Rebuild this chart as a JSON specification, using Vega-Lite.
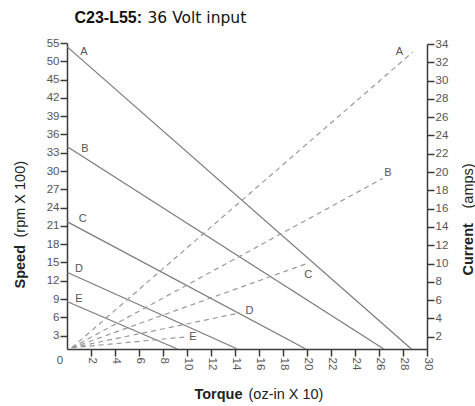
{
  "$schema": "https://vega.github.io/schema/vega-lite/v6.json",
  "width": 360,
  "height": 306,
  "autosize": {"type": "none"},
  "padding": {"left": 67, "top": 43, "right": 48, "bottom": 57},
  "datasets": {
    "speed": [
      {"motor": "A", "torque": 0, "speed": 54},
      {"motor": "A", "torque": 28.7, "speed": 0},
      {"motor": "B", "torque": 0, "speed": 34},
      {"motor": "B", "torque": 26.4, "speed": 0},
      {"motor": "C", "torque": 0, "speed": 21.7},
      {"motor": "C", "torque": 19.9, "speed": 0},
      {"motor": "D", "torque": 0, "speed": 13.4},
      {"motor": "D", "torque": 14.2, "speed": 0},
      {"motor": "E", "torque": 0, "speed": 8.6},
      {"motor": "E", "torque": 9.2, "speed": 0}
    ],
    "current": [
      {"motor": "A", "torque": 0.4, "current": 0.2},
      {"motor": "A", "torque": 28.8, "current": 33.1},
      {"motor": "B", "torque": 0.4, "current": 0.2},
      {"motor": "B", "torque": 26.3, "current": 19.3},
      {"motor": "C", "torque": 0.4, "current": 0.2},
      {"motor": "C", "torque": 20, "current": 10},
      {"motor": "D", "torque": 0.4, "current": 0.2},
      {"motor": "D", "torque": 14.4, "current": 4.6},
      {"motor": "E", "torque": 0.4, "current": 0.2},
      {"motor": "E", "torque": 10.1, "current": 2.0}
    ],
    "speedLabels": [
      {"motor": "A", "torque": 1.4, "speed": 52.5},
      {"motor": "B", "torque": 1.5, "speed": 33.6},
      {"motor": "C", "torque": 1.3, "speed": 22.1},
      {"motor": "D", "torque": 1.0, "speed": 14.0},
      {"motor": "E", "torque": 1.0, "speed": 9.0}
    ],
    "currentLabels": [
      {"motor": "A", "torque": 27.7, "current": 33.1},
      {"motor": "B", "torque": 26.75, "current": 19.9},
      {"motor": "C", "torque": 20.1, "current": 8.75},
      {"motor": "D", "torque": 15.2, "current": 4.8},
      {"motor": "E", "torque": 10.5, "current": 2.0}
    ],
    "origin": [{"t": "0", "torque": 0, "speed": 0}]
  },
  "layer": [
    {
      "data": {"name": "speed"},
      "mark": {"type": "line", "color": "#7a7a7a", "strokeWidth": 1.2},
      "encoding": {
        "x": {
          "field": "torque", "type": "quantitative",
          "scale": {"domain": [0, 30], "nice": false, "zero": false},
          "axis": {
            "orient": "bottom",
            "values": [2, 4, 6, 8, 10, 12, 14, 16, 18, 20, 22, 24, 26, 28, 30],
            "labelAngle": 90,
            "title": "Torque", "titleFontWeight": "bold",
            "titleX": 175, "titleY": 49, "titleAlign": "right", "titleBaseline": "alphabetic"
          }
        },
        "y": {
          "field": "speed", "type": "quantitative",
          "scale": {"domain": [0, 3, 45, 50, 55], "range": [306, 292.7, 36.5, 18, 0], "nice": false, "zero": false},
          "axis": {
            "orient": "left",
            "values": [3, 6, 9, 12, 15, 18, 21, 24, 27, 30, 33, 36, 39, 42, 45, 50, 55],
            "title": "Speed", "titleFontWeight": "bold", "titleAngle": -90,
            "titleX": -43, "titleY": 245, "titleAlign": "left", "titleBaseline": "alphabetic"
          }
        },
        "detail": {"field": "motor"}
      }
    },
    {
      "data": {"name": "current"},
      "mark": {"type": "line", "color": "#999999", "strokeWidth": 1.2, "strokeDash": [5, 4]},
      "encoding": {
        "x": {
          "field": "torque", "type": "quantitative",
          "scale": {"domain": [0, 30], "nice": false, "zero": false},
          "axis": {
            "orient": "top", "domain": false, "ticks": false, "labels": false,
            "title": "C23-L55:", "titleFontWeight": "bold", "titleFontSize": 16, "titleColor": "#111111",
            "titleX": 7, "titleY": -21, "titleAlign": "left", "titleBaseline": "alphabetic", "titleAngle": 0
          }
        },
        "y": {
          "field": "current", "type": "quantitative",
          "scale": {"domain": [0, 2, 34], "range": [306, 293.7, 1], "nice": false, "zero": false},
          "axis": {
            "orient": "right",
            "values": [2, 4, 6, 8, 10, 12, 14, 16, 18, 20, 22, 24, 26, 28, 30, 32, 34],
            "title": "Current", "titleFontWeight": "bold", "titleAngle": -90,
            "titleX": 45, "titleY": 232, "titleAlign": "left", "titleBaseline": "alphabetic"
          }
        },
        "detail": {"field": "motor"}
      }
    },
    {
      "data": {"name": "speedLabels"},
      "mark": {"type": "text", "color": "#555555", "fill": "#555555", "fontSize": 11, "font": "Liberation Sans"},
      "encoding": {
        "x": {
          "field": "torque", "type": "quantitative",
          "scale": {"domain": [0, 30], "nice": false, "zero": false},
          "axis": {
            "orient": "bottom", "domain": false, "ticks": false, "labels": false,
            "title": "(oz-in X 10)", "titleFontWeight": "normal",
            "titleX": 181, "titleY": 49, "titleAlign": "left", "titleBaseline": "alphabetic"
          }
        },
        "y": {
          "field": "speed", "type": "quantitative",
          "scale": {"domain": [0, 3, 45, 50, 55], "range": [306, 292.7, 36.5, 18, 0], "nice": false, "zero": false},
          "axis": {
            "orient": "left", "domain": false, "ticks": false, "labels": false,
            "title": "(rpm X 100)", "titleFontWeight": "normal", "titleAngle": -90,
            "titleX": -43, "titleY": 194, "titleAlign": "left", "titleBaseline": "alphabetic"
          }
        },
        "text": {"field": "motor"}
      }
    },
    {
      "data": {"name": "currentLabels"},
      "mark": {"type": "text", "color": "#555555", "fill": "#555555", "fontSize": 11, "font": "Liberation Sans"},
      "encoding": {
        "x": {
          "field": "torque", "type": "quantitative",
          "scale": {"domain": [0, 30], "nice": false, "zero": false},
          "axis": {
            "orient": "top", "domain": false, "ticks": false, "labels": false,
            "title": "36 Volt input", "titleFontWeight": "normal", "titleFont": "DejaVu Sans", "titleFontSize": 15.5, "titleColor": "#111111",
            "titleX": 80, "titleY": -21, "titleAlign": "left", "titleBaseline": "alphabetic", "titleAngle": 0
          }
        },
        "y": {
          "field": "current", "type": "quantitative",
          "scale": {"domain": [0, 2, 34], "range": [306, 293.7, 1], "nice": false, "zero": false},
          "axis": {
            "orient": "right", "domain": false, "ticks": false, "labels": false,
            "title": "(amps)", "titleFontWeight": "normal", "titleAngle": -90,
            "titleX": 45, "titleY": 165, "titleAlign": "left", "titleBaseline": "alphabetic"
          }
        },
        "text": {"field": "motor"}
      }
    },
    {
      "data": {"name": "origin"},
      "mark": {"type": "text", "color": "#555555", "fill": "#555555", "fontSize": 11.5, "font": "Liberation Sans", "dx": -7, "dy": 12},
      "encoding": {
        "x": {"field": "torque", "type": "quantitative", "scale": {"domain": [0, 30], "nice": false, "zero": false}, "axis": null},
        "y": {"field": "speed", "type": "quantitative", "scale": {"domain": [0, 3, 45, 50, 55], "range": [306, 292.7, 36.5, 18, 0], "nice": false, "zero": false}, "axis": null},
        "text": {"field": "t"}
      }
    }
  ],
  "resolve": {
    "scale": {"x": "independent", "y": "independent"},
    "axis": {"x": "independent", "y": "independent"}
  },
  "config": {
    "view": {"stroke": null},
    "font": "Liberation Sans",
    "axis": {
      "grid": false,
      "domainColor": "#3a3a3a",
      "domainWidth": 1.5,
      "tickColor": "#3a3a3a",
      "tickWidth": 1.5,
      "tickSize": 7,
      "labelColor": "#555555",
      "labelFontSize": 11.5,
      "labelFont": "Liberation Sans",
      "labelPadding": 1,
      "titleColor": "#222222",
      "titleFont": "Liberation Sans",
      "titleFontSize": 14.5
    }
  }
}
